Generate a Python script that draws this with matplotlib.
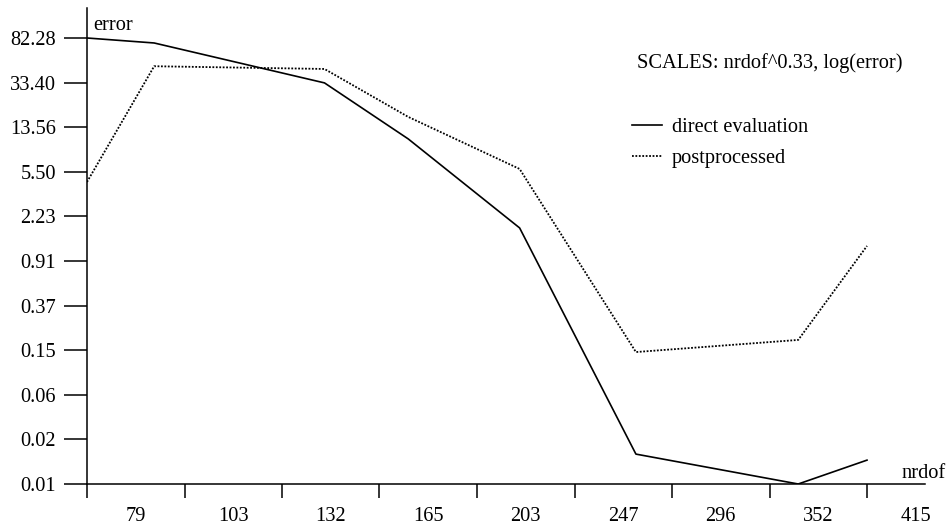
import matplotlib
matplotlib.use('Agg')
import matplotlib.pyplot as plt
import numpy as np
from matplotlib.transforms import ScaledTranslation

EXP = 0.33

# error against number of degrees of freedom
nrdof = [79, 95, 145, 175, 221, 277, 370, 415]
err_direct = [82.28, 74.4, 33.2, 10.7, 1.77, 0.0183, 0.0100, 0.0162]
err_post = [4.48, 46.5, 44.0, 16.7, 5.83, 0.144, 0.184, 1.23]

x_labels = ['79', '103', '132', '165', '203', '247', '296', '352', '415']
y_labels = ['0.01', '0.02', '0.06', '0.15', '0.37', '0.91', '2.23', '5.50',
            '13.56', '33.40', '82.28']

plt.rcParams['font.family'] = 'Liberation Serif'
plt.rcParams['font.size'] = 14.7

W, H = 948, 526
fig = plt.figure(figsize=(W / 100, H / 100), dpi=100)
ax = fig.add_axes([87 / W, 42 / H, (925 - 87) / W, (484 - 8) / H])

fwd = lambda x: np.power(np.abs(x), EXP)
inv = lambda u: np.power(np.abs(u), 1 / EXP)
ax.set_xscale('function', functions=(fwd, inv))
ax.set_yscale('log')

ax.plot(nrdof, err_direct, color='black', lw=1.2, label='direct evaluation')
ax.plot(nrdof, err_post, color='black', lw=1.3, linestyle=(0, (1, 0.9)),
        label='postprocessed')

# x ticks evenly spaced in nrdof^0.33 between first and last run
xmin, xmax = min(nrdof), max(nrdof)
u0, u1 = fwd(xmin), fwd(xmax)
xticks = inv(np.linspace(u0, u1, 9))
u_right = u0 + (925 - 87) / (867 - 87) * (u1 - u0)
ax.set_xlim(xmin, inv(u_right))
ax.set_xticks(xticks)
ax.set_xticklabels(x_labels)
ax.xaxis.set_minor_locator(matplotlib.ticker.NullLocator())

# y ticks evenly spaced in log(error) between min and max
ymin, ymax = min(err_direct + err_post), max(err_direct + err_post)
yticks = np.geomspace(ymin, ymax, 11)
step = np.log10(ymax / ymin) / 10
ax.set_ylim(ymin, 10 ** (np.log10(ymax) + step * 30 / 44.6))
ax.set_yticks(yticks)
ax.set_yticklabels(y_labels)
ax.yaxis.set_minor_locator(matplotlib.ticker.NullLocator())

for s in ['top', 'right']:
    ax.spines[s].set_visible(False)
for s in ['left', 'bottom']:
    ax.spines[s].set_linewidth(1.1)

ax.tick_params(axis='x', direction='out', length=10, width=1.1, pad=6.5)
ax.tick_params(axis='y', direction='out', length=16.5, width=1.1, pad=6.0)

# labels sit half a division to the right of their tick marks
shift = ScaledTranslation(0.4875, 0, fig.dpi_scale_trans)
for lab in ax.get_xticklabels():
    lab.set_transform(lab.get_transform() + shift)

fig.text(93 / W, 1 - 26 / H, 'error', va='center', ha='left')
fig.text(902 / W, 1 - 474 / H, 'nrdof', va='center', ha='left')
fig.text(637 / W, 1 - 63 / H, 'SCALES: nrdof^0.33, log(error)', va='center', ha='left')

ax.legend(loc='upper left', bbox_to_anchor=(632 / W, 1 - 118 / H),
          bbox_transform=fig.transFigure, frameon=False, borderpad=0,
          borderaxespad=0, handlelength=1.45, handletextpad=0.5,
          labelspacing=0.58)

fig.savefig('out.png', dpi=100)
